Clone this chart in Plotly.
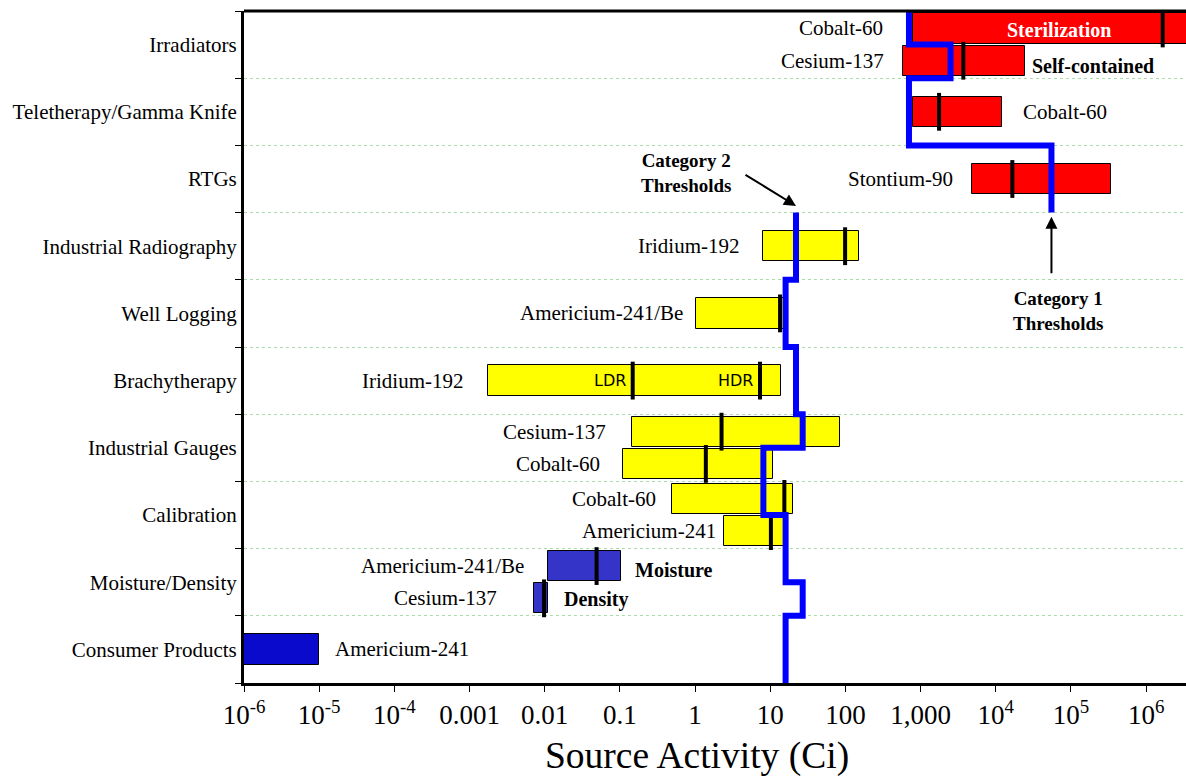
import numpy as np
import plotly.graph_objects as go

# ---------------- data ----------------
categories = ["Irradiators", "Teletherapy/Gamma Knife", "RTGs", "Industrial Radiography",
              "Well Logging", "Brachytherapy", "Industrial Gauges", "Calibration",
              "Moisture/Density", "Consumer Products"]

bar_row = [0, 0, 1, 2, 3, 4, 5, 6, 6, 7, 7, 8, 8, 9]
bar_slot = [-1, 1, 0, 0, 0, 0, 0, -1, 1, -1, 1, -1, 1, 0]
bar_isotope = ["Cobalt-60", "Cesium-137", "Cobalt-60", "Stontium-90", "Iridium-192",
               "Americium-241/Be", "Iridium-192", "Cesium-137", "Cobalt-60", "Cobalt-60",
               "Americium-241", "Americium-241/Be", "Cesium-137", "Americium-241"]
bar_low = [800, 580, 800, 4800, 8.1, 1.03, 0.00175, 0.144, 0.111, 0.5, 2.43, 0.011, 0.0073, 1e-6]
bar_high = [1e7, 24500, 12100, 342000, 152, 16.6, 13.9, 85, 10.8, 19.9, 15.7, 0.103, 0.0112, 1e-5]
bar_color = ["#FF0000"] * 4 + ["#FFFF00"] * 7 + ["#3434C8"] * 2 + ["#0A0ACC"]

typical_bar = [0, 1, 2, 3, 4, 5, 6, 6, 7, 8, 9, 10, 11, 12]
typical_value = [1.66e6, 3700, 1760, 16600, 99, 13.5, 0.148, 7.3, 2.25, 1.39, 15.4, 10.2, 0.049, 0.0098]

# threshold step lines: (activity, starting row position)
cat1_threshold = [700, 2500, 700, 55000]
cat1_start = [-0.5, 0.0, 0.5, 1.5]
cat1_end = 2.5
cat2_threshold = [22, 16, 22, 27, 8.1, 16, 27, 16]
cat2_start = [2.5, 3.5, 4.5, 5.5, 6.0, 7.0, 8.0, 8.5]
cat2_end = 9.5

tick_values = [10.0 ** k for k in range(-6, 7)]
tick_labels = ["10<sup>-6</sup>", "10<sup>-5</sup>", "10<sup>-4</sup>", "0.001", "0.01", "0.1",
               "1", "10", "100", "1,000", "10<sup>4</sup>", "10<sup>5</sup>", "10<sup>6</sup>"]

# ---------------- styling ----------------
SERIF = "Liberation Serif"
SLOT = 0.24
BAR_W = 0.45
label_side = ["left", "left", "right", "left", "left", "left", "left", "left", "left",
              "left", "left", "left", "left", "right"]
label_gap = [28, 17, 19, 17, 22, 11, 23, 24, 21, 14, 6, 22, 35, 14]

bar_y = [r + s * SLOT for r, s in zip(bar_row, bar_slot)]

fig = go.Figure()

fig.add_trace(go.Bar(
    orientation="h",
    y=bar_y,
    x=[h - l for l, h in zip(bar_low, bar_high)],
    base=bar_low,
    width=[BAR_W] * len(bar_y),
    marker=dict(color=bar_color, line=dict(color="black", width=1)),
    showlegend=False, hoverinfo="skip",
))

fig.add_trace(go.Scatter(
    x=typical_value,
    y=[bar_y[i] for i in typical_bar],
    mode="markers",
    marker=dict(symbol="line-ns", size=27, line=dict(color="black", width=4)),
    showlegend=False, hoverinfo="skip",
))


def step(thr, starts, end):
    xs = list(thr) + [thr[-1]]
    ys = list(starts) + [end]
    return xs, ys


for thr, st, en in [(cat1_threshold, cat1_start, cat1_end), (cat2_threshold, cat2_start, cat2_end)]:
    xs, ys = step(thr, st, en)
    fig.add_trace(go.Scatter(x=xs, y=ys, mode="lines", line=dict(color="#0000FF", width=6, shape="vh"),
                             showlegend=False, hoverinfo="skip"))

label_font = dict(family=SERIF, size=21, color="black")
ann = []
for i in range(len(bar_y)):
    if label_side[i] == "left":
        ann.append(dict(x=np.log10(bar_low[i]), y=bar_y[i], text=bar_isotope[i], xanchor="right",
                        xshift=-label_gap[i], showarrow=False, font=label_font))
    else:
        ann.append(dict(x=np.log10(bar_high[i]), y=bar_y[i], text=bar_isotope[i], xanchor="left",
                        xshift=label_gap[i], showarrow=False, font=label_font))

bold = dict(family=SERIF, size=20, color="black")
ann.append(dict(x=4.842, y=bar_y[0], text="<b>Sterilization</b>", showarrow=False, yshift=-2,
                font=dict(family=SERIF, size=20, color="white")))
for idx, txt, gap, ys in [(1, "Self-contained", 5, -5), (11, "Moisture", 12, -4), (12, "Density", 14, -1)]:
    ann.append(dict(x=np.log10(bar_high[idx]), y=bar_y[idx], text="<b>%s</b>" % txt, xanchor="left",
                    xshift=gap, yshift=ys, showarrow=False, font=bold))
for k, txt in [(6, "LDR"), (7, "HDR")]:
    ann.append(dict(x=np.log10(typical_value[k]), y=bar_y[typical_bar[k]], text=txt, xanchor="right",
                    xshift=-5, showarrow=False, font=dict(family="DejaVu Sans", size=16, color="black")))

# threshold call-outs
ann.append(dict(x=-0.12, y=1.91, text="<b>Category 2<br>Thresholds</b>", showarrow=False,
                font=dict(family=SERIF, size=19, color="black")))
ann.append(dict(x=np.log10(cat2_threshold[0]), y=2.4, text="", showarrow=True, ax=-52, ay=-32,
                arrowhead=2, arrowsize=1.2, arrowwidth=2, arrowcolor="black"))
ann.append(dict(x=4.83, y=3.97, text="<b>Category 1<br>Thresholds</b>", showarrow=False,
                font=dict(family=SERIF, size=19, color="black")))
ann.append(dict(x=np.log10(cat1_threshold[-1]), y=2.56, text="", showarrow=True, ax=0, ay=58,
                arrowhead=2, arrowsize=1.2, arrowwidth=2, arrowcolor="black"))

ann.append(dict(xref="paper", yref="paper", x=0.481, y=-0.108, text="Source Activity (Ci)",
                showarrow=False, yanchor="middle", font=dict(family=SERIF, size=37.5, color="black")))

fig.update_layout(
    width=1186, height=778,
    margin=dict(l=244, r=0, t=11, b=95),
    paper_bgcolor="white", plot_bgcolor="white",
    bargap=0, barmode="overlay",
    annotations=ann,
    shapes=[dict(type="line", xref="paper", yref="paper", x0=0, x1=1, y0=1, y1=1,
                 line=dict(color="black", width=3))],
    xaxis=dict(type="log", range=[-6, 6.53], tickmode="array", tickvals=tick_values, ticktext=tick_labels,
               ticks="outside", ticklen=6, tickcolor="black", showgrid=False, zeroline=False,
               showline=True, linecolor="black", linewidth=3,
               tickfont=dict(family=SERIF, size=27, color="black")),
    yaxis=dict(range=[9.5, -0.5], tickmode="array", tickvals=list(range(len(categories))),
               ticktext=categories, ticks="",
               showgrid=False, zeroline=False, showline=True, linecolor="black", linewidth=3,
               tickfont=dict(family=SERIF, size=21, color="black"),
               minor=dict(tickmode="linear", tick0=-0.5, dtick=1, ticks="outside", ticklen=6,
                          tickcolor="black", showgrid=True, gridcolor="#a8dca8", griddash="dot",
                          gridwidth=1)),
)

fig.write_html("out.html", config={"displayModeBar": False},
               post_script="document.body.style.margin='0';")
